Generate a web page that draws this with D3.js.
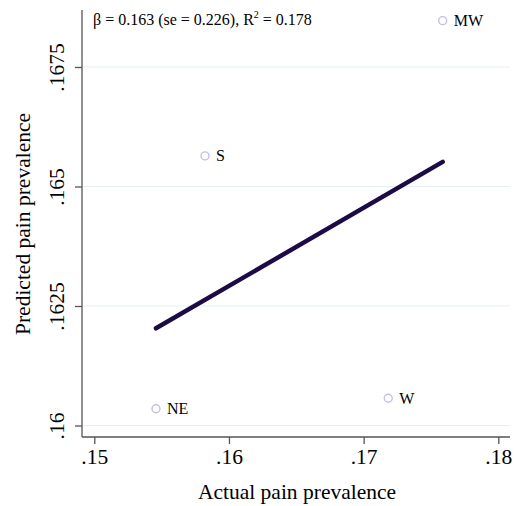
<!DOCTYPE html>
<html>
<head>
<meta charset="utf-8">
<script src="https://cdn.jsdelivr.net/npm/d3@7"></script>
<style>
	body { margin: 0; background: #fff; }
	text { font-family: "Liberation Serif", "DejaVu Serif", serif; }
</style>
</head>
<body>
<div id="chart"></div>
<script>
// data
var regions = ["MW", "S", "NE", "W"];
var actual = [0.17587, 0.15822, 0.15458, 0.17183];
var predicted = [0.16847, 0.16564, 0.16035, 0.16057];
var xTicks = [0.15, 0.16, 0.17, 0.18];
var yTicks = [0.16, 0.1625, 0.165, 0.1675];

var width = 516, height = 506;
var margin = { top: 10, right: 6, bottom: 69, left: 82 };

var svg = d3.select("#chart")
	.append("svg")
	.attr("width", width)
	.attr("height", height);

// scales
var x = d3.scaleLinear()
	.domain([0.15, 0.18])
	.range([94.3, 498.3]);
var y = d3.scaleLinear()
	.domain([0.16, 0.1675])
	.range([425.5, 67]);

var fmt = function (d) {
	return d3.format("")(+d.toFixed(4)).replace(/^0/, "");
};

// grid lines
svg.append("g")
	.selectAll("line")
	.data(yTicks)
	.enter()
	.append("line")
	.attr("x1", margin.left)
	.attr("x2", width - margin.right)
	.attr("y1", function (d) { return y(d); })
	.attr("y2", function (d) { return y(d); })
	.style("stroke", "#e6eff1")
	.style("stroke-width", 1.2);

// x axis
var xAxis = svg.append("g")
	.attr("transform", "translate(0," + (height - margin.bottom) + ")")
	.call(d3.axisBottom(x).tickValues(xTicks).tickSize(7).tickPadding(5).tickFormat(fmt));
xAxis.attr("font-family", "Liberation Serif");
xAxis.select(".domain")
	.attr("d", "M" + margin.left + ",0H" + (width - margin.right));
xAxis.selectAll("line, path").style("stroke", "#555").style("stroke-width", 1.3);
xAxis.selectAll("text").style("font-size", "21.5px").style("font-family", "Liberation Serif").style("fill", "#000");

// y axis
var yAxis = svg.append("g")
	.attr("transform", "translate(" + margin.left + ",0)")
	.call(d3.axisLeft(y).tickValues(yTicks).tickSize(7).tickPadding(6).tickFormat(fmt));
yAxis.attr("font-family", "Liberation Serif");
yAxis.select(".domain")
	.attr("d", "M0," + margin.top + "V" + (height - margin.bottom));
yAxis.selectAll("line, path").style("stroke", "#555").style("stroke-width", 1.3);
yAxis.selectAll("text")
	.attr("x", null)
	.attr("dy", null)
	.attr("transform", "translate(-18,0) rotate(-90)")
	.attr("text-anchor", "middle")
	.style("font-size", "21.5px")
	.style("font-family", "Liberation Serif")
	.style("fill", "#000");

// axis titles
svg.append("text")
	.attr("x", 297)
	.attr("y", 499)
	.attr("text-anchor", "middle")
	.style("font-size", "21.5px")
	.text("Actual pain prevalence");
svg.append("text")
	.attr("transform", "translate(30,224) rotate(-90)")
	.attr("text-anchor", "middle")
	.style("font-size", "21.5px")
	.text("Predicted pain prevalence");

// linear fit
var mx = d3.mean(actual), my = d3.mean(predicted);
var sxy = d3.sum(actual, function (d, i) { return (d - mx) * (predicted[i] - my); });
var sxx = d3.sum(actual, function (d) { return (d - mx) * (d - mx); });
var slope = sxy / sxx, intercept = my - slope * mx;
var ends = d3.extent(actual);

svg.append("line")
	.attr("x1", x(ends[0]))
	.attr("y1", y(intercept + slope * ends[0]))
	.attr("x2", x(ends[1]))
	.attr("y2", y(intercept + slope * ends[1]))
	.style("stroke", "#1c0b47")
	.style("stroke-width", 4.5)
	.style("stroke-linecap", "round");

// points and labels
var pts = svg.append("g")
	.selectAll("g")
	.data(regions)
	.enter()
	.append("g");
pts.append("circle")
	.attr("cx", function (d, i) { return x(actual[i]); })
	.attr("cy", function (d, i) { return y(predicted[i]); })
	.attr("r", 4)
	.style("fill", "none")
	.style("stroke", "#c6bfe0")
	.style("stroke-width", 1.4);
pts.append("text")
	.attr("x", function (d, i) { return x(actual[i]) + 11; })
	.attr("y", function (d, i) { return y(predicted[i]) + 5.5; })
	.style("font-size", "16px")
	.text(function (d) { return d; });

// annotation
var note = svg.append("text")
	.attr("x", 93)
	.attr("y", 25)
	.style("font-size", "16px");
note.append("tspan").text("\u03b2 = 0.163 (se = 0.226), R");
note.append("tspan").attr("dy", -7).style("font-size", "10px").text("2");
note.append("tspan").attr("dy", 7).text(" = 0.178");
</script>
</body>
</html>
